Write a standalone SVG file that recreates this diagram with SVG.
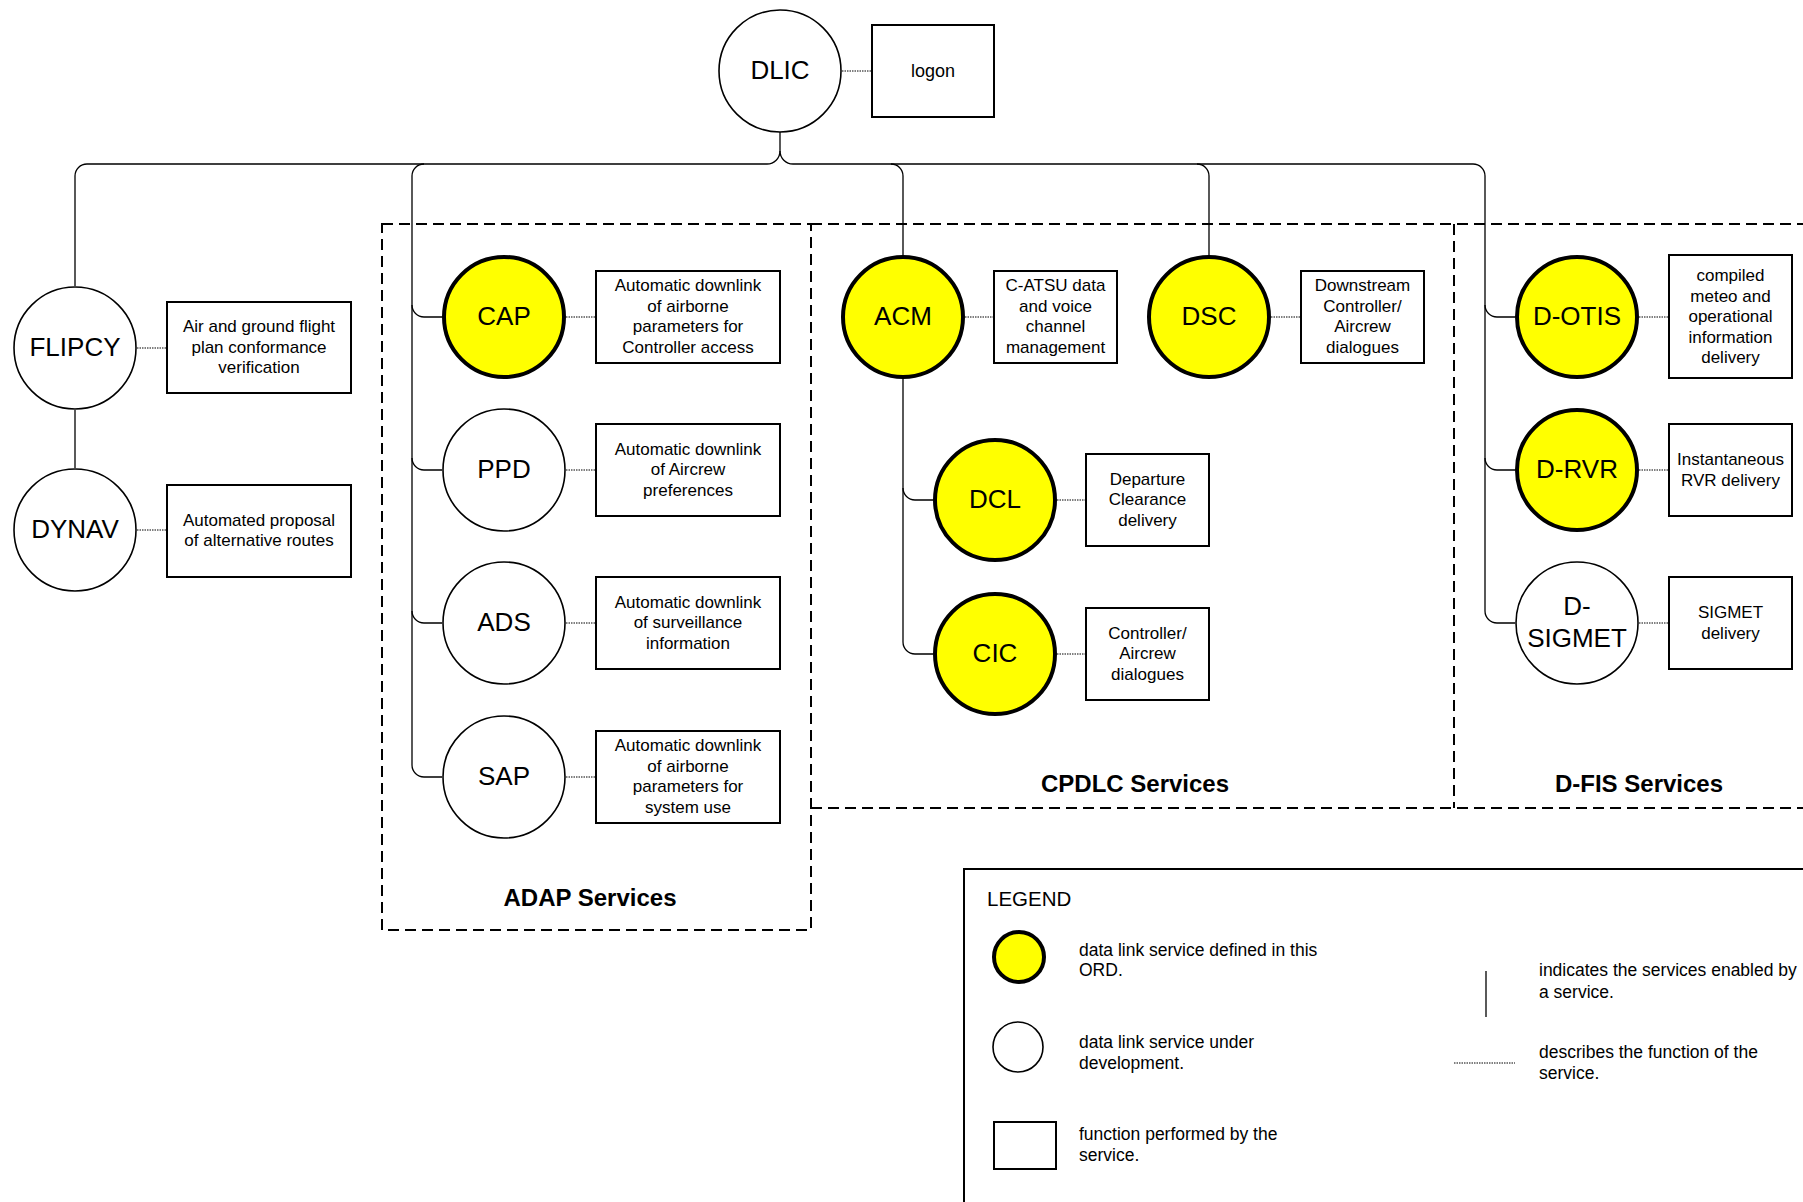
<svg xmlns="http://www.w3.org/2000/svg" width="1803" height="1202" viewBox="0 0 1803 1202">
<style>
  .bg{fill:#fff}
  .y{fill:#ffff00;stroke:#000;stroke-width:4}
  .w{fill:#fff;stroke:#000;stroke-width:1.6}
  .box{fill:#fff;stroke:#000;stroke-width:2}
  .conn{fill:none;stroke:#000;stroke-width:1.3}
  .dot{fill:none;stroke:#000;stroke-width:1;stroke-dasharray:1.5,1}
  .dash{fill:none;stroke:#000;stroke-width:2;stroke-dasharray:11,6}
  .lbl{font-family:"Liberation Sans",Arial,sans-serif;font-size:26px;text-anchor:middle;fill:#000}
  .t{font-family:"Liberation Sans",Arial,sans-serif;font-size:17px;text-anchor:middle;fill:#000}
  .sec{font-family:"Liberation Sans",Arial,sans-serif;font-size:24px;font-weight:bold;text-anchor:middle;fill:#000}
  .lg{font-family:"Liberation Sans",Arial,sans-serif;font-size:17.5px;fill:#000}
</style>
<rect class="bg" x="0" y="0" width="1803" height="1202"/>

<g id="groups">
  <rect class="dash" x="382" y="224" width="429" height="706"/>
  <path class="dash" d="M811,224 H1803"/>
  <path class="dash" d="M811,808 H1803"/>
  <path class="dash" d="M1454,224 V808"/>
  <text class="sec" x="590" y="906">ADAP Services</text>
  <text class="sec" x="1135" y="792">CPDLC Services</text>
  <text class="sec" x="1639" y="792">D-FIS Services</text>
</g>

<g id="connectors">
  <path class="conn" d="M780,132 V151 A13,13 0 0 1 767,164 H87 A12,12 0 0 0 75,176 V286"/>
  <path class="conn" d="M780,151 A13,13 0 0 0 793,164 H1473 A12,12 0 0 1 1485,176 V611 A12,12 0 0 0 1497,623 H1515"/>
  <path class="conn" d="M1485,305 A12,12 0 0 0 1497,317 H1515"/>
  <path class="conn" d="M1485,458 A12,12 0 0 0 1497,470 H1515"/>
  <path class="conn" d="M75,410 V468"/>
  <path class="conn" d="M424,164 A12,12 0 0 0 412,176 V765 A12,12 0 0 0 424,777 H442"/>
  <path class="conn" d="M412,305 A12,12 0 0 0 424,317 H442"/>
  <path class="conn" d="M412,458 A12,12 0 0 0 424,470 H442"/>
  <path class="conn" d="M412,611 A12,12 0 0 0 424,623 H442"/>
  <path class="conn" d="M891,164 A12,12 0 0 1 903,176 V255"/>
  <path class="conn" d="M1197,164 A12,12 0 0 1 1209,176 V255"/>
  <path class="conn" d="M903,379 V642 A12,12 0 0 0 915,654 H933"/>
  <path class="conn" d="M903,488 A12,12 0 0 0 915,500 H933"/>
  <path class="dot" d="M842,71 H872"/>
  <path class="dot" d="M137,348 H167"/>
  <path class="dot" d="M137,530 H167"/>
  <path class="dot" d="M566,317 H596"/>
  <path class="dot" d="M566,470 H596"/>
  <path class="dot" d="M566,623 H596"/>
  <path class="dot" d="M566,777 H596"/>
  <path class="dot" d="M965,317 H994"/>
  <path class="dot" d="M1271,317 H1301"/>
  <path class="dot" d="M1057,500 H1086"/>
  <path class="dot" d="M1057,654 H1086"/>
  <path class="dot" d="M1639,317 H1669"/>
  <path class="dot" d="M1639,470 H1669"/>
  <path class="dot" d="M1639,623 H1669"/>
</g>

<g id="DLIC">
  <circle class="w" cx="780" cy="71" r="61"/>
  <text class="lbl" x="780" y="79">DLIC</text>
  <rect class="box" x="872" y="25" width="122" height="92"/>
  <text class="t" x="933" y="77" style="font-size:18px">logon</text>
</g>

<g id="FLIPCY">
  <circle class="w" cx="75" cy="348" r="61"/>
  <text class="lbl" x="75" y="356">FLIPCY</text>
  <rect class="box" x="167" y="302" width="184" height="91"/>
  <text class="t" x="259" y="332">Air and ground flight</text>
  <text class="t" x="259" y="352.5">plan conformance</text>
  <text class="t" x="259" y="373">verification</text>
</g>

<g id="DYNAV">
  <circle class="w" cx="75" cy="530" r="61"/>
  <text class="lbl" x="75" y="538">DYNAV</text>
  <rect class="box" x="167" y="485" width="184" height="92"/>
  <text class="t" x="259" y="526">Automated proposal</text>
  <text class="t" x="259" y="546">of alternative routes</text>
</g>

<g id="CAP">
  <circle class="y" cx="504" cy="317" r="60"/>
  <text class="lbl" x="504" y="325">CAP</text>
  <rect class="box" x="596" y="271" width="184" height="92"/>
  <text class="t" x="688" y="291">Automatic downlink</text>
  <text class="t" x="688" y="311.5">of airborne</text>
  <text class="t" x="688" y="332">parameters for</text>
  <text class="t" x="688" y="352.5">Controller access</text>
</g>

<g id="PPD">
  <circle class="w" cx="504" cy="470" r="61"/>
  <text class="lbl" x="504" y="478">PPD</text>
  <rect class="box" x="596" y="424" width="184" height="92"/>
  <text class="t" x="688" y="454.5">Automatic downlink</text>
  <text class="t" x="688" y="475">of Aircrew</text>
  <text class="t" x="688" y="495.5">preferences</text>
</g>

<g id="ADS">
  <circle class="w" cx="504" cy="623" r="61"/>
  <text class="lbl" x="504" y="631">ADS</text>
  <rect class="box" x="596" y="577" width="184" height="92"/>
  <text class="t" x="688" y="607.5">Automatic downlink</text>
  <text class="t" x="688" y="628">of surveillance</text>
  <text class="t" x="688" y="648.5">information</text>
</g>

<g id="SAP">
  <circle class="w" cx="504" cy="777" r="61"/>
  <text class="lbl" x="504" y="785">SAP</text>
  <rect class="box" x="596" y="731" width="184" height="92"/>
  <text class="t" x="688" y="751">Automatic downlink</text>
  <text class="t" x="688" y="771.5">of airborne</text>
  <text class="t" x="688" y="792">parameters for</text>
  <text class="t" x="688" y="812.5">system use</text>
</g>

<g id="ACM">
  <circle class="y" cx="903" cy="317" r="60"/>
  <text class="lbl" x="903" y="325">ACM</text>
  <rect class="box" x="994" y="271" width="123" height="92"/>
  <text class="t" x="1055.5" y="291">C-ATSU data</text>
  <text class="t" x="1055.5" y="311.5">and voice</text>
  <text class="t" x="1055.5" y="332">channel</text>
  <text class="t" x="1055.5" y="352.5">management</text>
</g>

<g id="DSC">
  <circle class="y" cx="1209" cy="317" r="60"/>
  <text class="lbl" x="1209" y="325">DSC</text>
  <rect class="box" x="1301" y="271" width="123" height="92"/>
  <text class="t" x="1362.5" y="291">Downstream</text>
  <text class="t" x="1362.5" y="311.5">Controller/</text>
  <text class="t" x="1362.5" y="332">Aircrew</text>
  <text class="t" x="1362.5" y="352.5">dialogues</text>
</g>

<g id="DCL">
  <circle class="y" cx="995" cy="500" r="60"/>
  <text class="lbl" x="995" y="508">DCL</text>
  <rect class="box" x="1086" y="454" width="123" height="92"/>
  <text class="t" x="1147.5" y="484.5">Departure</text>
  <text class="t" x="1147.5" y="505">Clearance</text>
  <text class="t" x="1147.5" y="525.5">delivery</text>
</g>

<g id="CIC">
  <circle class="y" cx="995" cy="654" r="60"/>
  <text class="lbl" x="995" y="662">CIC</text>
  <rect class="box" x="1086" y="608" width="123" height="92"/>
  <text class="t" x="1147.5" y="638.5">Controller/</text>
  <text class="t" x="1147.5" y="659">Aircrew</text>
  <text class="t" x="1147.5" y="679.5">dialogues</text>
</g>

<g id="D-OTIS">
  <circle class="y" cx="1577" cy="317" r="60"/>
  <text class="lbl" x="1577" y="325">D-OTIS</text>
  <rect class="box" x="1669" y="255" width="123" height="123"/>
  <text class="t" x="1730.5" y="281">compiled</text>
  <text class="t" x="1730.5" y="301.5">meteo and</text>
  <text class="t" x="1730.5" y="322">operational</text>
  <text class="t" x="1730.5" y="342.5">information</text>
  <text class="t" x="1730.5" y="363">delivery</text>
</g>

<g id="D-RVR">
  <circle class="y" cx="1577" cy="470" r="60"/>
  <text class="lbl" x="1577" y="478">D-RVR</text>
  <rect class="box" x="1669" y="424" width="123" height="92"/>
  <text class="t" x="1730.5" y="465">Instantaneous</text>
  <text class="t" x="1730.5" y="485.5">RVR delivery</text>
</g>

<g id="D-SIGMET">
  <circle class="w" cx="1577" cy="623" r="61"/>
  <text class="lbl" x="1577" y="615">D-</text>
  <text class="lbl" x="1577" y="647">SIGMET</text>
  <rect class="box" x="1669" y="577" width="123" height="92"/>
  <text class="t" x="1730.5" y="618">SIGMET</text>
  <text class="t" x="1730.5" y="638.5">delivery</text>
</g>

<g id="legend">
  <path class="box" d="M964,1202 V869 H1803" style="fill:none"/>
  <text class="lg" x="987" y="906" style="font-size:20.5px">LEGEND</text>
  <circle class="y" cx="1019" cy="957" r="25"/>
  <text class="lg" x="1079" y="956">data link service defined in this</text>
  <text class="lg" x="1079" y="976">ORD.</text>
  <ellipse class="w" cx="1018" cy="1047" rx="25" ry="25"/>
  <text class="lg" x="1079" y="1048">data link service under</text>
  <text class="lg" x="1079" y="1069">development.</text>
  <rect class="box" x="994" y="1122" width="62" height="47"/>
  <text class="lg" x="1079" y="1140">function performed by the</text>
  <text class="lg" x="1079" y="1161">service.</text>
  <path class="conn" d="M1486,971 V1017"/>
  <text class="lg" x="1539" y="976">indicates the services enabled by</text>
  <text class="lg" x="1539" y="998">a service.</text>
  <path class="dot" d="M1454,1063 H1515"/>
  <text class="lg" x="1539" y="1058">describes the function of the</text>
  <text class="lg" x="1539" y="1079">service.</text>
</g>
</svg>
